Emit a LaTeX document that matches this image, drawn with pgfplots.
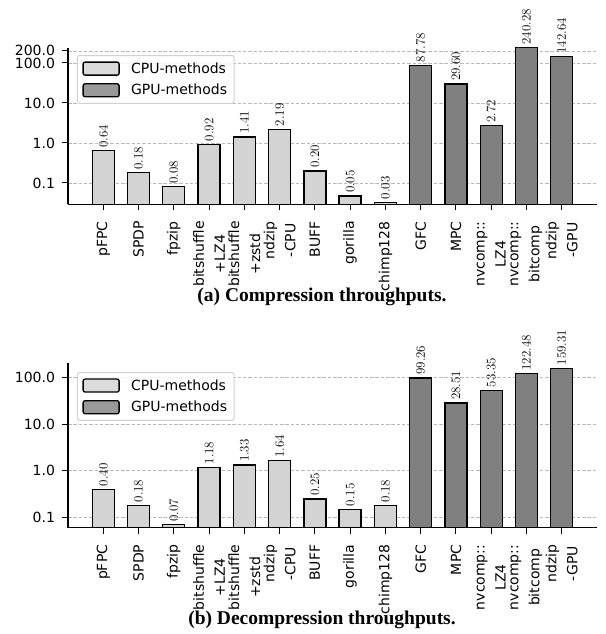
\documentclass[border=0pt]{standalone}
\usepackage{fontspec}
\usepackage{pgfplots}
\usepackage{pgfplotstable}
\pgfplotsset{compat=1.18}
\newfontfamily\dejavu{DejaVu Sans}
\newfontfamily\capfont{Liberation Serif}
\definecolor{cpucol}{RGB}{211,211,211}
\definecolor{gpucol}{RGB}{128,128,128}
\definecolor{gridcol}{RGB}{185,185,185}

\pgfplotstableread{
x y lab
0 0.64 0.64
1 0.18 0.18
2 0.08 0.08
3 0.92 0.92
4 1.41 1.41
5 2.19 2.19
6 0.20 0.20
7 0.047 0.05
8 0.033 0.03
}\cpuA
\pgfplotstableread{
x y lab
9 87.78 87.78
10 29.60 29.60
11 2.72 2.72
12 240.28 240.28
13 142.64 142.64
}\gpuA
\pgfplotstableread{
x y lab
0 0.40 0.40
1 0.18 0.18
2 0.07 0.07
3 1.18 1.18
4 1.33 1.33
5 1.64 1.64
6 0.25 0.25
7 0.15 0.15
8 0.18 0.18
}\cpuB
\pgfplotstableread{
x y lab
9 99.26 99.26
10 28.51 28.51
11 53.35 53.35
12 122.48 122.48
13 159.31 159.31
}\gpuB

\begin{document}
\begin{tikzpicture}
\useasboundingbox (0pt,0pt) rectangle (605pt,-634pt);
\begin{axis}[
    scale only axis, width=529pt, height=156.6pt,
    anchor=south west, at={(68pt,-204.3pt)},
    xmin=-1, xmax=14,
    ymode=log, log origin=infty,
    ymin=0.0293, ymax=240.28,
    ytick={0.1,1,10,100,200}, yticklabels={0.1,1.0,10.0,100.0,200.0},
    axis x line*=bottom, axis y line*=left,
    axis line style={-, line width=1.2pt, black},
    tick align=outside, major tick length=6pt,
    tick style={black, line width=1pt},
    yminorticks=false,
    ymajorgrids,
    grid style={gridcol, line width=0.7pt, dash pattern=on 3.5pt off 1.8pt},
    xtick={0,...,13},
    xticklabels={pFPC,SPDP,fpzip,{bitshuffle\\+LZ4},{bitshuffle\\+zstd},{ndzip\\-CPU},BUFF,gorilla,chimp128,GFC,MPC,{nvcomp::\\LZ4},{nvcomp::\\bitcomp},{ndzip\\-GPU}},
    xticklabel shift=7.5pt,
    yticklabel shift=3.5pt,
    xticklabel style={rotate=90, anchor=east, align=center, font=\dejavu\fontsize{14}{21}\selectfont},
    yticklabel style={font=\dejavu\fontsize{14}{16}\selectfont},
    legend image code/.code={\draw[#1] (0pt,-6.5pt) rectangle (36pt,6.5pt); \path[draw=none, fill=none] (0pt,0pt) -- (46pt,0pt);},
    legend style={at={(0.017,0.953)}, anchor=north west, draw=black!18, line width=1pt,
      fill=white, fill opacity=0.8, draw opacity=1, text opacity=1,
      rounded corners=2pt, font=\dejavu\fontsize{14}{16}\selectfont,
      inner xsep=5pt, inner ysep=5pt, row sep=5.5pt},
    legend cell align=left,
  ]
\addplot[ybar, bar width=22pt, bar shift=0pt, fill=cpucol, draw=black, line width=1.3pt,
  nodes near coords, point meta=explicit symbolic,
  nodes near coords style={rotate=90, anchor=west, text=black, inner sep=2.5pt, font=\fontsize{13}{13}\selectfont}]
  table[x=x, y=y, meta=lab] {\cpuA};
\addlegendentry{CPU-methods}
\addplot[ybar, bar width=22pt, bar shift=0pt, fill=gpucol, draw=black, line width=1.3pt,
  nodes near coords, point meta=explicit symbolic,
  nodes near coords style={rotate=90, anchor=west, text=black, inner sep=2.5pt, font=\fontsize{13}{13}\selectfont}]
  table[x=x, y=y, meta=lab] {\gpuA};
\addlegendentry{GPU-methods}
\end{axis}
\node[anchor=base, font=\capfont\bfseries\fontsize{19.5}{20}\selectfont] at (322pt,-301pt) {(a) Compression throughputs.};

\begin{axis}[
    scale only axis, width=529pt, height=164.4pt,
    anchor=south west, at={(68pt,-527.7pt)},
    xmin=-1, xmax=14,
    ymode=log, log origin=infty,
    ymin=0.06, ymax=204,
    ytick={0.1,1,10,100}, yticklabels={0.1,1.0,10.0,100.0},
    axis x line*=bottom, axis y line*=left,
    axis line style={-, line width=1.2pt, black},
    tick align=outside, major tick length=6pt,
    tick style={black, line width=1pt},
    yminorticks=false,
    ymajorgrids,
    grid style={gridcol, line width=0.7pt, dash pattern=on 3.5pt off 1.8pt},
    xtick={0,...,13},
    xticklabels={pFPC,SPDP,fpzip,{bitshuffle\\+LZ4},{bitshuffle\\+zstd},{ndzip\\-CPU},BUFF,gorilla,chimp128,GFC,MPC,{nvcomp::\\LZ4},{nvcomp::\\bitcomp},{ndzip\\-GPU}},
    xticklabel shift=7.5pt,
    yticklabel shift=3.5pt,
    xticklabel style={rotate=90, anchor=east, align=center, font=\dejavu\fontsize{14}{21}\selectfont},
    yticklabel style={font=\dejavu\fontsize{14}{16}\selectfont},
    legend image code/.code={\draw[#1] (0pt,-6.5pt) rectangle (36pt,6.5pt); \path[draw=none, fill=none] (0pt,0pt) -- (46pt,0pt);},
    legend style={at={(0.017,0.947)}, anchor=north west, draw=black!18, line width=1pt,
      fill=white, fill opacity=0.8, draw opacity=1, text opacity=1,
      rounded corners=2pt, font=\dejavu\fontsize{14}{16}\selectfont,
      inner xsep=5pt, inner ysep=5pt, row sep=5.5pt},
    legend cell align=left,
  ]
\addplot[ybar, bar width=22pt, bar shift=0pt, fill=cpucol, draw=black, line width=1.3pt,
  nodes near coords, point meta=explicit symbolic,
  nodes near coords style={rotate=90, anchor=west, text=black, inner sep=2.5pt, font=\fontsize{13}{13}\selectfont}]
  table[x=x, y=y, meta=lab] {\cpuB};
\addlegendentry{CPU-methods}
\addplot[ybar, bar width=22pt, bar shift=0pt, fill=gpucol, draw=black, line width=1.3pt,
  nodes near coords, point meta=explicit symbolic,
  nodes near coords style={rotate=90, anchor=west, text=black, inner sep=2.5pt, font=\fontsize{13}{13}\selectfont}]
  table[x=x, y=y, meta=lab] {\gpuB};
\addlegendentry{GPU-methods}
\end{axis}
\node[anchor=base, font=\capfont\bfseries\fontsize{19.5}{20}\selectfont] at (322pt,-624.5pt) {(b) Decompression throughputs.};
\end{tikzpicture}
\end{document}
